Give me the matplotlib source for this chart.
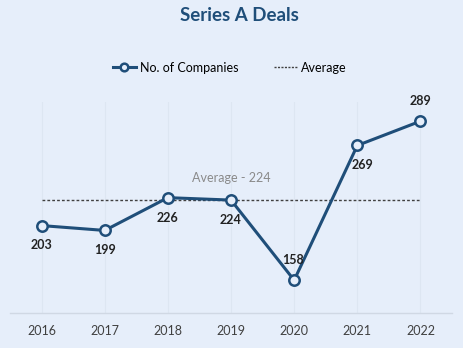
import matplotlib
matplotlib.use("Agg")
import matplotlib.pyplot as plt
from matplotlib.lines import Line2D

plt.rcParams['font.family'] = ['Lato', 'DejaVu Sans']

# data
years = ['2016', '2017', '2018', '2019', '2020', '2021', '2022']
companies = [203, 199, 226, 224, 158, 269, 289]
average = 224

bg = '#e6eefa'
navy = '#1f4e79'

# label offsets in points (dx, dy) so the numbers clear the line
offsets = [(0, -10), (0, -10), (0, -10), (0, -10), (-1, 10), (4, -10), (0, 10)]

fig = plt.figure(figsize=(4.64, 3.48), dpi=100, facecolor=bg)
ax = fig.add_axes([0.0216, 0.1006, 0.9526, 0.607])
ax.set_facecolor(bg)

x = list(range(len(years)))
for xi in x:
    ax.axvline(xi, color='#dde6f2', lw=0.8, zorder=0)

ax.plot([x[0], x[-1]], [average, average], ls=(0, (2, 1.5)), color='#404040', lw=1.0, zorder=1)
ax.plot(x, companies, color=navy, lw=2.2, marker='o', ms=7.5, mfc=bg, mec=navy, mew=1.8, zorder=3)

for xi, v, (dx, dy) in zip(x, companies, offsets):
    ax.annotate(str(v), (xi, v), xytext=(dx, dy), textcoords='offset points',
                ha='center', va='top' if dy < 0 else 'bottom',
                fontsize=9, fontweight='bold', color='#222222')

ax.text(3, average + 13, 'Average - ' + str(average), ha='center', va='bottom',
        fontsize=9, color='#8a8a8a')

ax.set_xlim(-0.5, 6.5)
ax.set_ylim(131, 305)
ax.set_xticks(x)
ax.set_xticklabels(years, fontsize=9, color='#404040')
ax.set_yticks([])
ax.tick_params(axis='x', length=0, pad=9)
for s in ['top', 'left', 'right']:
    ax.spines[s].set_visible(False)
ax.spines['bottom'].set_color('#d0d8e4')
ax.spines['bottom'].set_linewidth(1.0)

fig.text(0.515, 0.955, 'Series A Deals', ha='center', va='center',
         fontsize=13.5, fontweight='bold', color=navy)

handles = [Line2D([], [], color=navy, lw=2.2, marker='o', ms=5.5, mfc=bg, mec=navy, mew=1.8),
           Line2D([], [], color='#404040', lw=1.0, ls=(0, (1.5, 1)))]
fig.legend(handles, ['No. of Companies', 'Average'], loc='center', bbox_to_anchor=(0.495, 0.805),
           ncol=2, frameon=False, fontsize=9, handlelength=1.9, handletextpad=0.3,
           columnspacing=2.8)

fig.savefig('out.png', dpi=100, facecolor=bg)
